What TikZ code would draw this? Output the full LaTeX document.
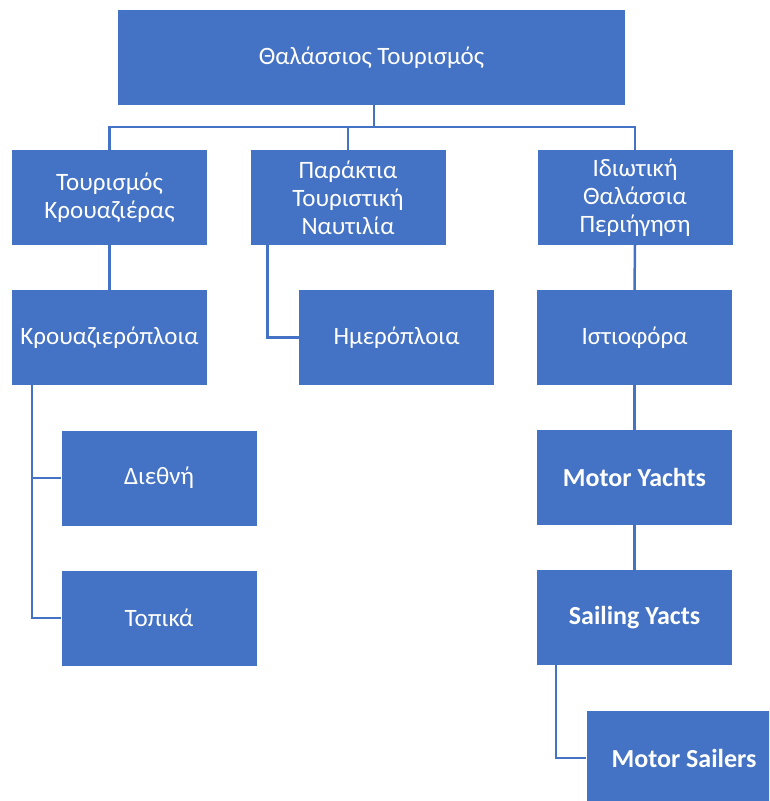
\documentclass[tikz,border=0pt]{standalone}
\usepackage{fontspec}
\setmainfont{Carlito}
\usetikzlibrary{positioning,calc}
\definecolor{boxblue}{RGB}{68,114,196}
\tikzset{
  orgbox/.style  = {rectangle, fill=boxblue, text=white, align=center,
                    minimum width=195pt, minimum height=95pt, inner sep=1pt,
                    font=\fontsize{25}{28}\selectfont},
  latinbox/.style = {orgbox, font=\fontsize{26}{28}\selectfont\bfseries},
  link/.style    = {draw=boxblue, line width=2.5pt}
}

\begin{document}
\begin{tikzpicture}[x=1pt,y=-1pt]
\clip (0,0) rectangle (769,801);

% --- top ---
\node[orgbox, minimum width=507pt] (top) at (371.5,57.5) {Θαλάσσιος Τουρισμός};

% --- second row ---
\node[orgbox] (cruise)  at (109.5,197.5) {Τουρισμός\\Κρουαζιέρας};
\node[orgbox] (coastal) at (348,197.5)   {Παράκτια\\Τουριστική\\Ναυτιλία};
\node[orgbox] (private) at (635,197.5)   {Ιδιωτική\\Θαλάσσια\\Περιήγηση};

% --- left branch ---
\node[orgbox] (ships) at (109.5,337.5) {Κρουαζιερόπλοια};
\node[orgbox] (intl)  at (159,478)     {Διεθνή};
\node[orgbox] (local) at (159,618)     {Τοπικά};

% --- middle branch ---
\node[orgbox] (dayboats) at (396.5,337.5) {Ημερόπλοια};

% --- right branch ---
\node[orgbox]   (sail)          at (634.5,337.5) {Ιστιοφόρα};
\node[latinbox] (motoryachts)   at (634.5,477.5) {Motor Yachts};
\node[latinbox] (sailingyachts) at (634.5,617.5) {Sailing Yacts};
\node[latinbox] (motorsailers)  at (684,758)     {Motor Sailers};

% --- connectors ---
\coordinate (bar) at ($(top.south)+(2.5,22)$);
\foreach \child in {cruise,coastal,private}{
  \draw[link] (top.south -| bar) -- (bar) -| (\child.north);
}
\draw[link] (cruise.south) -- (ships.north);
\draw[link] ($(coastal.south west)+(17,0)$) |- (dayboats.west);
\foreach \child in {intl,local}{
  \draw[link] ($(ships.south west)+(20,0)$) |- (\child.west);
}
\draw[link] (private.south) -- (sail.north);
\draw[link] (sail.south) -- (motoryachts.north);
\draw[link] (motoryachts.south) -- (sailingyachts.north);
\draw[link] ($(sailingyachts.south west)+(19,0)$) |- (motorsailers.west);

\end{tikzpicture}
\end{document}
